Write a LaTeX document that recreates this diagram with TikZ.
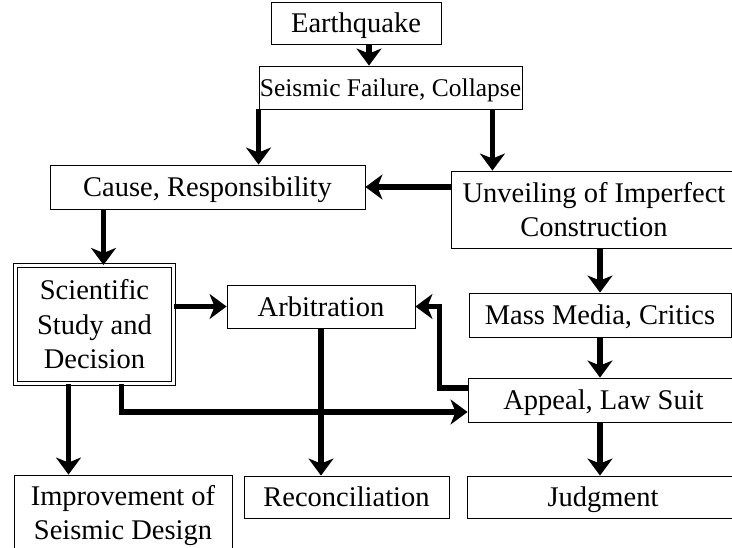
\documentclass[tikz,border=0pt]{standalone}
\usepackage{fontspec}
\setmainfont{Liberation Serif}
\usetikzlibrary{arrows.meta}

\newcommand*{\boxLine}{0.9pt}
\newcommand*{\arrowLine}{5.5pt}
\newcommand*{\textSize}{\fontsize{28.5}{34}\selectfont}

\begin{document}
\begin{tikzpicture}[x=1pt,y=-1pt,
    box/.style={rectangle, draw, line width=\boxLine, inner sep=0pt, align=center, font=\textSize},
    onebox/.style={box, text height=19pt, text depth=0pt},
    dbox/.style={box, line width=1.1pt, double, double distance=2.6pt},
    arr/.style={line width=\arrowLine, -{Stealth[length=17pt,width=25pt,inset=5pt]}}]

    \useasboundingbox (0,0) rectangle (732,547);
    \clip (0,0) rectangle (732,547);

    % boxes
    \node [onebox, minimum width=170pt, minimum height=42pt] (eq) at (356,23) {Earthquake};
    \node [onebox, minimum width=263pt, minimum height=43pt, font=\fontsize{25.5}{30}\selectfont, text height=17pt] (sf) at (390.5,87.5) {Seismic Failure, Collapse};
    \node [onebox, minimum width=315pt, minimum height=44pt] (cause) at (207.5,187) {Cause, Responsibility};
    \node [box, minimum width=286pt, minimum height=77pt] (unv) at (594,209.5) {Unveiling of Imperfect\\Construction};
    \node [dbox, minimum width=158pt, minimum height=118pt, font=\fontsize{28.5}{34.5}\selectfont] (sci) at (94.5,324.5) {Scientific\\Study and\\Decision};
    \node [onebox, minimum width=188pt, minimum height=43pt] (arb) at (321,306.5) {Arbitration};
    \node [onebox, minimum width=262pt, minimum height=44pt] (mass) at (600,315) {Mass Media, Critics};
    \node [onebox, minimum width=271pt, minimum height=44pt] (app) at (603.5,400) {Appeal, Law Suit};
    \node [box, minimum width=218pt, minimum height=82pt] (imp) at (123,516) {Improvement of\\Seismic Design};
    \node [onebox, minimum width=205pt, minimum height=42pt] (rec) at (346.5,497) {Reconciliation};
    \node [onebox, minimum width=272pt, minimum height=42pt] (jud) at (603,497) {Judgment};

    % arrows
    \draw [arr] ([xshift=13pt]eq.south) -- ([xshift=13pt]eq.south |- sf.north);
    \draw [arr] (sf.south west) -- (sf.south west |- cause.north);
    \draw [arr] ([xshift=-30pt]sf.south east) -- ([xshift=-30pt]sf.south east |- unv.north);
    \draw [arr] (unv.west |- cause.east) -- (cause.east);
    \draw [arr] ([xshift=9pt]sci.north |- cause.south) -- ([xshift=9pt]sci.north);
    \draw [arr] (sci.east |- arb.west) -- (arb.west);
    \draw [arr] (unv.south -| mass.north) -- (mass.north);
    \draw [arr] (mass.south) -- (mass.south |- app.north);
    \draw [arr] ([yshift=12pt]app.west) -- ++(-28pt,0) |- (arb.east);
    \draw [arr] ([xshift=27pt]sci.south) |- ([yshift=-12pt]app.west);
    \draw [arr] ([xshift=-26pt]sci.south) -- ([xshift=-26pt]sci.south |- imp.north);
    \draw [arr] (arb.south) -- (arb.south |- rec.north);
    \draw [arr] (mass.south |- app.south) -- (mass.south |- jud.north);

\end{tikzpicture}
\end{document}
